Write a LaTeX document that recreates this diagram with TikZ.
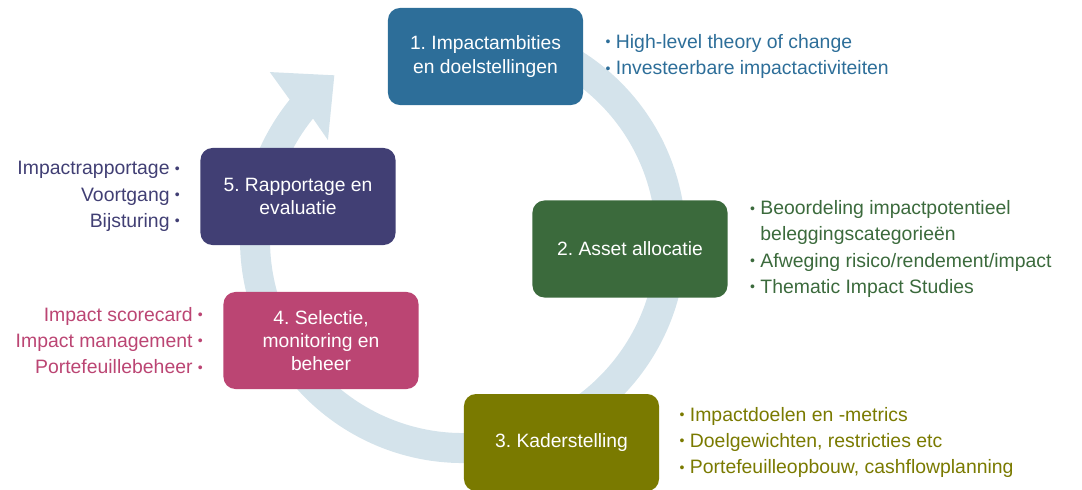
\documentclass[tikz,border=0pt]{standalone}
\usepackage{fontspec}
\setmainfont{Liberation Sans}
\usetikzlibrary{positioning}
\frenchspacing
\definecolor{blauw}{HTML}{2D6E99}
\definecolor{groen}{HTML}{3B6A3C}
\definecolor{olijf}{HTML}{7A7A00}
\definecolor{roze}{HTML}{BB4573}
\definecolor{paars}{HTML}{413F74}
\definecolor{ringkleur}{HTML}{D4E3EB}
\newcommand{\stip}{\raisebox{0.15ex}{\fontsize{10}{10}\selectfont•}}
\begin{document}
\begin{tikzpicture}[x=0.025cm, y=0.025cm,
  stap/.style={rounded corners=0.3cm, minimum width=4.875cm, minimum height=2.425cm,
    align=center, text=white, inner sep=2pt, font=\fontsize{13.7}{16.5}\selectfont},
  lijst/.style={inner sep=0pt, font=\fontsize{13.8}{18.7}\selectfont},
  ring/.style={ringkleur}]
  \useasboundingbox (0,0) rectangle (1082,-489);
  % cirkel met pijlpunt
  \begin{scope}[shift={(463,-240)}]
    \draw[ring, line width=0.75cm] (100:208) arc[start angle=100, end angle=-220, radius=208];
    \fill[ring] (141:223) -- (139:256) -- (128:209) -- (143.5:168) -- (141:193) -- cycle;
  \end{scope}
  % stappen
  \node[stap, fill=blauw] (ambities) at (485.5,-56.5) {1. Impactambities\\en doelstellingen};
  \node[stap, fill=groen] (allocatie) at (630,-249) {2. Asset allocatie};
  \node[stap, fill=olijf] (kader) at (561.5,-442.5) {3. Kaderstelling};
  \node[stap, fill=roze] (selectie) at (321,-340.5) {4. Selectie,\\monitoring en\\beheer};
  \node[stap, fill=paars] (rapportage) at (298,-196.5) {5. Rapportage en\\evaluatie};
  % toelichting
  \node[lijst, text=blauw, align=left, right=0.55cm of ambities] (ambities-lijst)
    {\stip{} High-level theory of change\\\stip{} Investeerbare impactactiviteiten};
  \node[lijst, text=groen, align=left, right=0.55cm of allocatie] (allocatie-lijst)
    {\stip{} Beoordeling impactpotentieel\\\phantom{\stip} beleggingscategorieën\\\stip{} Afweging risico/rendement/impact\\\stip{} Thematic Impact Studies};
  \node[lijst, text=olijf, align=left, right=0.5cm of kader] (kader-lijst)
    {\stip{} Impactdoelen en -metrics\\\stip{} Doelgewichten, restricties etc\\\stip{} Portefeuilleopbouw, cashflowplanning};
  \node[lijst, text=roze, align=right, left=0.5cm of selectie] (selectie-lijst)
    {Impact scorecard \stip\\Impact management \stip\\Portefeuillebeheer \stip};
  \node[lijst, text=paars, align=right, left=0.5cm of rapportage] (rapportage-lijst)
    {Impactrapportage \stip\\Voortgang \stip\\Bijsturing \stip};
\end{tikzpicture}
\end{document}
